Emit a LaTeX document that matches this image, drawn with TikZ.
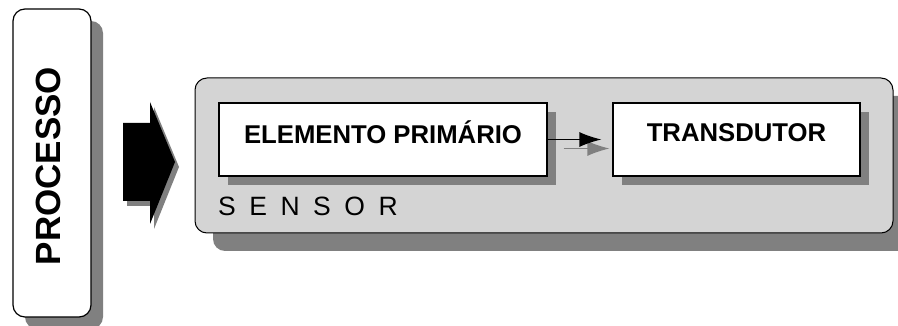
\documentclass[tikz,border=0pt]{standalone}
\usepackage{fontspec}
\setmainfont{Liberation Sans}
\usetikzlibrary{shadows,arrows.meta}
\definecolor{shadowgray}{HTML}{808080}
\definecolor{panelgray}{HTML}{D4D4D4}
\begin{document}
\begin{tikzpicture}[x=1pt,y=-1pt,
  boxshadow/.style={drop shadow={shadow xshift=#1, shadow yshift=-#1, fill=shadowgray, opacity=1}},
  roundbox/.style={draw=black, line width=1.2pt, rounded corners=12pt, fill=white, inner sep=0pt},
  whitebox/.style={draw=black, line width=1.2pt, fill=white, inner sep=0pt,
    font=\fontsize{25.7}{30}\selectfont\bfseries, text height=0.716em, text depth=0pt},
  flowarrow/.style={line width=1.3pt, -{Latex[length=22pt,width=15pt]}, shorten >=11pt}
]
\useasboundingbox (0,0) rectangle (898,326);
% PROCESSO
\node[roundbox, boxshadow=12pt, minimum width=78pt, minimum height=308pt] (proc) at (52,163) {};
\node[rotate=90, anchor=base, inner sep=0pt, font=\fontsize{35}{40}\selectfont\bfseries] (proctext) at (60,166) {PROCESSO};
% block arrow
\fill[shadowgray] (127,128) -- (154,128) -- (154,107) -- (179,167) -- (154,229) -- (154,206) -- (127,206) -- cycle;
\fill[black] (123,123) -- (150,123) -- (150,102) -- (175,162) -- (150,224) -- (150,201) -- (123,201) -- cycle;
% SENSOR panel
\node[roundbox, fill=panelgray, line width=1pt, boxshadow=18pt, minimum width=698pt, minimum height=155pt] (sensor) at (544,155.5) {};
\node[anchor=base west, inner sep=0pt, text=black, font=\fontsize{26.5}{30}\selectfont\addfontfeature{LetterSpace=51}] (sensortext) at (218,216) {SENSOR};
% inner boxes
\node[whitebox, boxshadow=9pt, minimum width=328pt, minimum height=73pt] (elem) at (383,139.5) {ELEMENTO PRIMÁRIO};
\node[whitebox, boxshadow=9pt, minimum width=247pt, minimum height=73pt] (trans) at (736.5,139.5) {\raisebox{1.5pt}{TRANSDUTOR}\hspace{6pt}};
% arrow and its shadow
\draw[flowarrow, shadowgray, shorten <=8pt] ([shift={(8,9)}]elem.east) -- ([shift={(8,9)}]trans.west);
\draw[flowarrow] (elem.east) -- (trans.west);
\end{tikzpicture}
\end{document}
